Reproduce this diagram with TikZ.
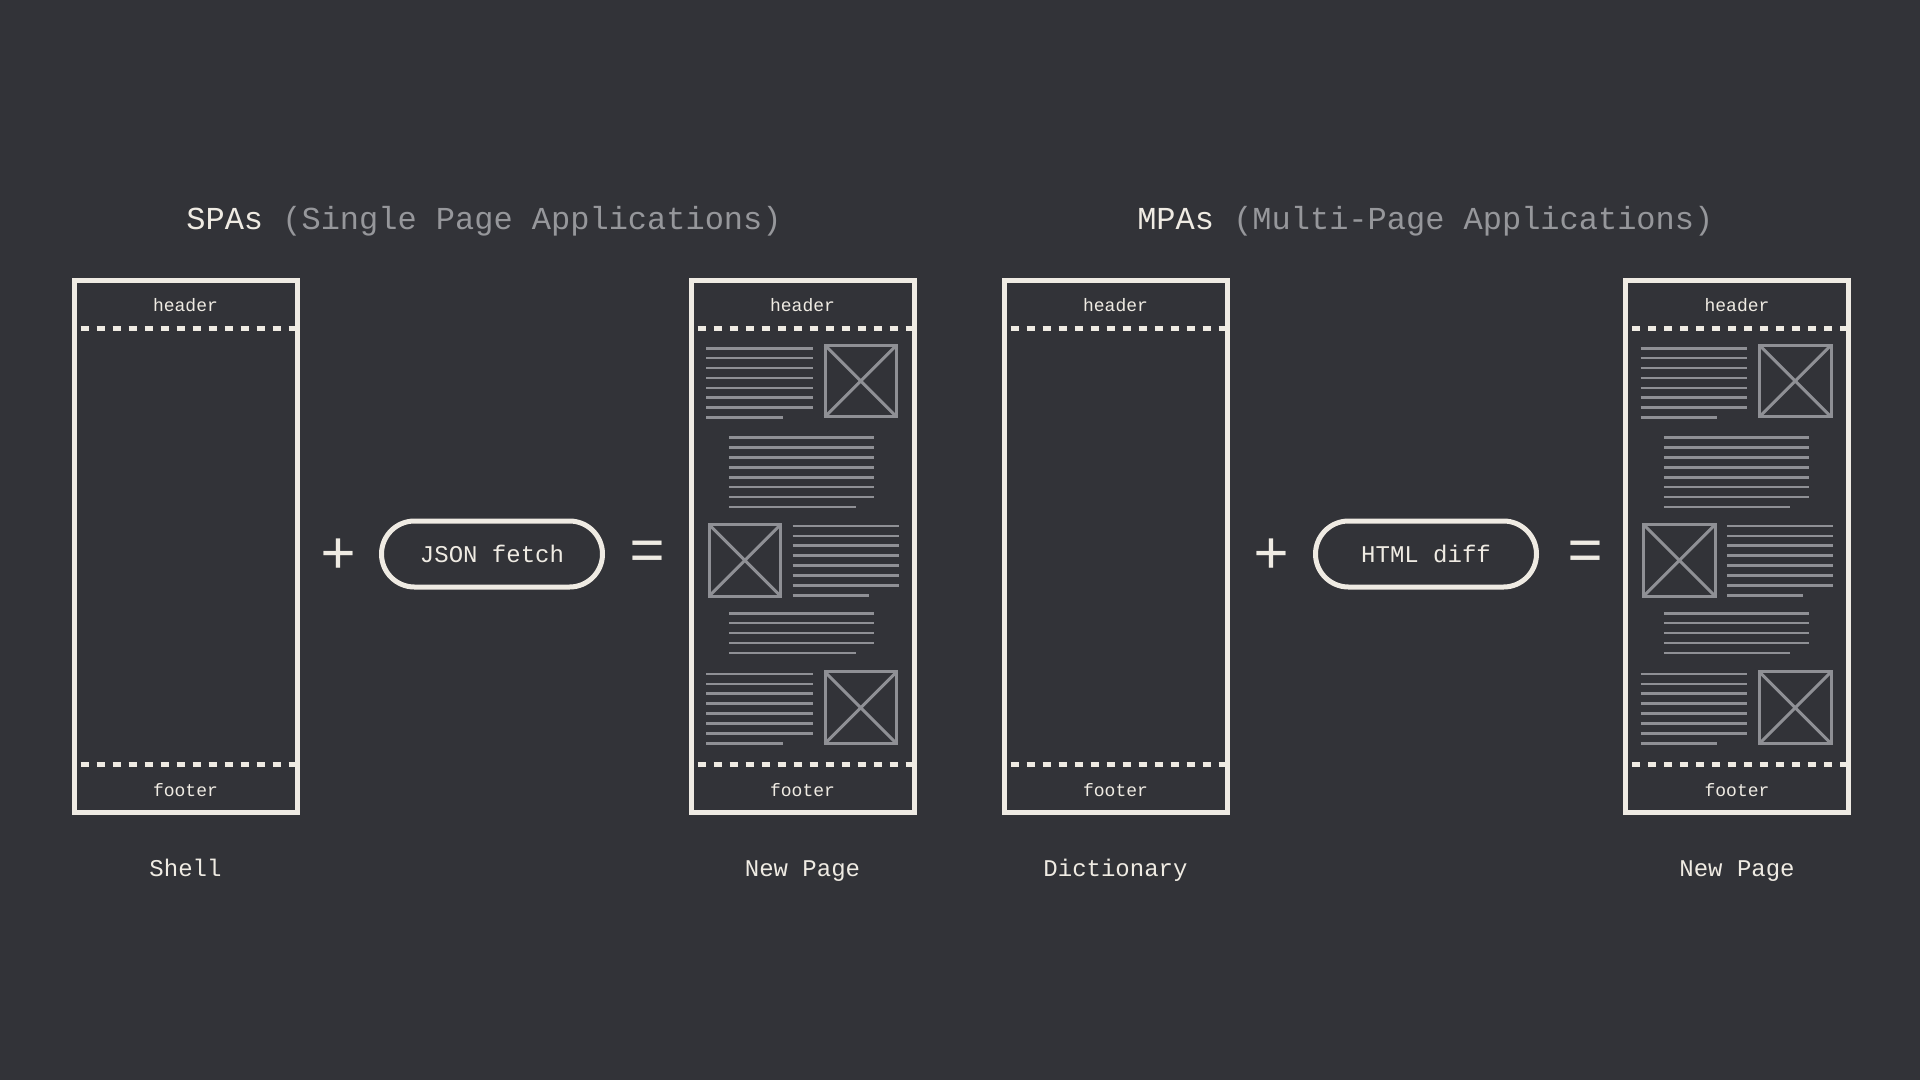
\documentclass[tikz,border=0pt]{standalone}
\usepackage{fontspec}
\setmainfont{Liberation Mono}
\usetikzlibrary{positioning, calc}
\definecolor{bgdark}{HTML}{323338}
\definecolor{cream}{HTML}{EFEBE3}
\definecolor{wiregray}{HTML}{8F9095}
\definecolor{dimtext}{HTML}{96979B}

\begin{document}
\begin{tikzpicture}[x=1pt, y=-1pt,
  page/.style={draw=cream, line width=5pt, minimum width=223pt, minimum height=532pt, outer sep=0pt, inner sep=0pt},
  divider/.style={cream, line width=4.5pt, dash pattern=on 8pt off 8pt},
  pill/.style={draw=cream, line width=5pt, rounded corners=33pt, minimum width=221pt, minimum height=66pt, outer sep=0pt, text=cream, font=\fontsize{24}{24}\selectfont},
  op/.style={text=cream, font=\fontsize{60}{60}\selectfont, inner sep=0pt},
  small/.style={text=cream, font=\fontsize{18}{18}\selectfont, anchor=base},
  caption/.style={text=cream, font=\fontsize{24}{24}\selectfont, anchor=base},
  title/.style={text=cream, font=\fontsize{32}{32}\selectfont, anchor=base},
  txtline/.style={wiregray, line width=2.6pt},
  imgbox/.style={draw=wiregray, line width=3pt}]

  % Background
  \fill[bgdark] (0,0) rectangle (1920,1080);

  % Titles
  \node[title] (spa) at (484,229.5) {SPAs \textcolor{dimtext}{(Single Page Applications)}};
  \node[title] (mpa) at (1425.3,229.5) {MPAs \textcolor{dimtext}{(Multi-Page Applications)}};

  % Page frames
  \node[page] (shell) at (185.5,546.4) {};
  \node[page] (newspa) at (802.5,546.4) {};
  \node[page] (dict) at (1115.5,546.4) {};
  \node[page] (newmpa) at (1737,546.4) {};

  % Header, footer and caption of each frame
  \foreach \pg/\lbl in {shell/Shell, newspa/New Page, dict/Dictionary, newmpa/New Page} {
    \draw[divider] ($(\pg.north west)+(6.5,48)$) -- ($(\pg.north east)+(-2.5,48)$);
    \draw[divider] ($(\pg.south west)+(6.5,-48)$) -- ($(\pg.south east)+(-2.5,-48)$);
    \node[small] (\pg-head) at ($(\pg.north)+(0,31.3)$) {header};
    \node[small] (\pg-foot) at ($(\pg.south)+(0,-16.4)$) {footer};
    \node[caption] (\pg-cap) at ($(\pg.south)+(0,64)$) {\lbl};
  }

  % Wireframe content of the new pages
  \foreach \pg in {newspa, newmpa} {
    \begin{scope}[shift={(\pg.north west)}]
      % text lines
      \foreach \lx/\ly/\lw/\sw/\n in {15/67.8/106.7/76.7/7, 38.3/157.2/144.7/126.4/7, 101.7/245.5/106/76/7, 38.3/332.8/144.7/126.4/4, 15/393.5/106.7/76.7/7} {
        \foreach \i in {1,...,\n}
          \draw[txtline] ({\lx},{\ly+9.9*(\i-1)}) -- ++(\lw,0);
        \draw[txtline] ({\lx},{\ly+9.9*\n}) -- ++(\sw,0);
      }
      % image placeholders
      \foreach \ix/\iy in {134/64.8, 18/244.2, 134/391.5} {
        \draw[imgbox] (\ix,\iy) rectangle ++(71.6,71.6);
        \draw[imgbox] (\ix,\iy) -- ++(71.6,71.6) (\ix+71.6,\iy) -- ++(-71.6,71.6);
      }
    \end{scope}
  }

  % Operators and fetched parts
  \node[op] (plus1) at (338.7,555.7) {+};
  \node[pill] (json) at (492,554) {JSON fetch};
  \node[op] (eq1) at (647.2,555.5) {=};
  \node[op] (plus2) at (1271,555.7) {+};
  \node[pill] (htmldiff) at (1426,554) {HTML diff};
  \node[op] (eq2) at (1585,555.5) {=};
\end{tikzpicture}
\end{document}
